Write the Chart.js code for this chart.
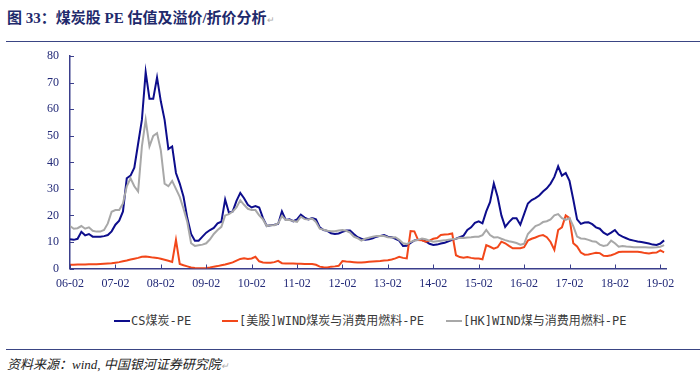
<!DOCTYPE html>
<html>
<head>
<meta charset="utf-8">
<script src="https://cdn.jsdelivr.net/npm/chart.js@4.4.1/dist/chart.umd.min.js"></script>
<style>
  body { margin: 0; width: 700px; height: 374px; background: #fff; position: relative; overflow: hidden; }
  #title { position: absolute; left: 7px; top: 6px; font: bold 15px "Liberation Serif", "Noto Sans CJK SC", serif; color: #1f2a6c; white-space: nowrap; }
  #title small, #source small { color: #aaa; font-weight: normal; font-size: 9px; }
  .rule { position: absolute; left: 6px; right: 0; border-top: 1.5px solid #3a4584; }
  #wrap { position: absolute; left: 0; top: 38px; width: 700px; height: 256px; }
  .item { position: absolute; top: 311px; height: 16px; line-height: 16px; font: 12px "DejaVu Sans Mono", "Noto Sans CJK SC", monospace; color: #3a3a3a; white-space: nowrap; }
  .item i { display: inline-block; width: 16px; height: 2px; vertical-align: middle; margin-right: 1px; position: relative; top: -1px; }
  #source { position: absolute; left: 7px; top: 354px; font: italic 13px "Liberation Serif", "Noto Sans CJK SC", serif; color: #222; white-space: nowrap; }
</style>
</head>
<body>
<div id="title">图 33：煤炭股 PE 估值及溢价/折价分析<small>↵</small></div>
<div class="rule" style="top:41px"></div>
<div id="wrap"><canvas id="chart"></canvas></div>
<div class="item" style="left:114px"><i style="background:#0d0d8c"></i>CS煤炭-PE</div>
<div class="item" style="left:222px"><i style="background:#f2471a"></i>[美股]WIND煤炭与消费用燃料-PE</div>
<div class="item" style="left:446px"><i style="background:#a8a8a8"></i>[HK]WIND煤与消费用燃料-PE</div>
<div class="rule" style="top:349px"></div>
<div id="source">资料来源：wind, 中国银河证券研究院<small>↵</small></div>

<script>
// monthly samples, 2006-02 .. 2019-03
const tickLabels = ['06-02', '07-02', '08-02', '09-02', '10-02', '11-02', '12-02',
  '13-02', '14-02', '15-02', '16-02', '17-02', '18-02', '19-02'];

const csPE = [
  11, 10.8, 11.2, 13.8, 12.5, 13, 12, 12, 12, 12.2,
  12.6, 14, 16.5, 18, 21.5, 34, 35, 38, 47, 56,
  74, 64, 64, 72, 63, 56, 45, 46, 36, 32,
  27, 19, 13, 10.5, 10.5, 12, 13.5, 14.5, 15.3, 17,
  17.6, 26, 21, 21.5, 25.5, 28.5, 26.5, 24, 23, 23.5,
  23, 19, 16, 16.3, 16.5, 16.8, 21.5, 18.3, 18.5, 17.8,
  18.5, 20.3, 19.2, 18.5, 19, 18.5, 15.5, 14.5, 14.2, 13.3,
  13, 13.2, 13.8, 14.3, 14.3, 13, 11.8, 11.2, 10.8, 11,
  11.4, 12, 12.3, 12.6, 12, 11.8, 11.2, 10.5, 8.5, 8.6,
  9.6, 10.6, 10.7, 10.7, 10.2, 9.3, 8.9, 9, 9.4, 9.7,
  10.2, 10.8, 11.2, 11.8, 12.4, 14.5, 15.5, 17.2, 17.8, 17,
  21.5, 25, 32, 27, 20, 15.7, 17.5, 18.9, 18.9, 16.5,
  20.5, 24.5, 25.8, 26.5, 27.5, 29, 30.2, 32, 34.5, 38.5,
  35, 36, 33, 26, 18.5, 16.8, 17.3, 17.4, 16.7, 15.5,
  15, 13.5, 12.7, 13.5, 14.5, 12.8, 12, 11.4, 10.8, 10.5,
  10.2, 10, 9.7, 9.4, 9, 8.9, 9.4, 10.6
];

const usPE = [
  1.4, 1.4, 1.5, 1.5, 1.5, 1.6, 1.6, 1.6, 1.7, 1.8,
  1.9, 2.0, 2.2, 2.4, 2.7, 3.0, 3.4, 3.7, 4.0, 4.4,
  4.5, 4.3, 4.1, 4.0, 3.7, 3.3, 2.9, 2.5, 10.8, 1.7,
  1.2, 0.8, 0.4, 0.2, 0.1, 0.1, 0.2, 0.4, 0.7, 0.9,
  1.2, 1.5, 1.9, 2.3, 3.0, 3.6, 3.9, 3.6, 3.8, 4.4,
  2.7, 2.3, 2.2, 2.2, 2.4, 2.9, 2.0, 1.9, 1.9, 1.9,
  1.8, 1.8, 1.7, 1.7, 1.7, 1.4, 0.7, 0.5, 0.4, 0.7,
  0.8, 1.0, 2.8, 2.6, 2.5, 2.4, 2.3, 2.3, 2.4, 2.5,
  2.6, 2.7, 2.8, 3.0, 3.1, 3.4, 3.8, 4.4, 4.0, 3.8,
  14.1, 14.0, 10.7, 10.6, 10.1, 10.5, 11.2, 11.5, 12.6, 12.8,
  12.9, 13.2, 5.0, 4.3, 4.1, 4.3, 4.0, 3.8, 3.8, 3.5,
  8.8, 8.2, 7.5, 8.0, 10.1, 9.5, 8.5, 7.6, 7.6, 7.6,
  8.0, 10.5, 11.2, 11.7, 12.3, 12.6, 11.8, 10.0, 7.0, 14.5,
  15.5, 20, 19, 9.5, 8.3, 6.0, 5.2, 5.3, 5.6, 5.9,
  5.8, 4.8, 4.7, 5.0, 5.5, 6.2, 6.3, 6.3, 6.3, 6.3,
  6.3, 6.1, 5.8, 5.7, 5.9, 6.0, 6.8, 6.1
];

const hkPE = [
  16, 15, 15.2, 16, 15, 15.5, 14.2, 13.9, 13.9, 14.5,
  17, 21.4, 22, 22, 24.5, 31, 34, 31, 29, 46,
  56, 46, 50, 51, 44.5, 32, 31, 33, 30, 27,
  22.5, 17.5, 9.5, 8.5, 8.8, 9, 9.5, 11, 13, 14.5,
  15.7, 20, 20.5, 21.5, 23, 25.7, 24, 22.5, 22, 22,
  20, 18.5, 16, 16.3, 16.3, 17, 19.8, 18.3, 18.3, 17.9,
  17.6, 19.5, 18.6, 18.5, 18.8, 17.5, 15, 14.6, 14.2, 14,
  14, 14.3, 14.5, 14.2, 13.5, 12, 11.4, 10.5, 11.2, 11.6,
  12, 12.2, 12.2, 12.2, 11.8, 11.7, 11.8, 10.8, 9.5, 9.2,
  10, 10.5, 10.8, 11.3, 11, 10.5, 10.1, 10.3, 10.5, 10.6,
  10.8, 11, 11.2, 11.6, 11.5, 11.7, 11.8, 12, 12, 12.6,
  14.5, 12.6, 11.7, 11.8, 11.2, 10.7, 10.3, 10, 9.6, 9,
  9.3, 13, 14.5, 16, 16.5, 17.5, 17.8, 18.5, 20, 20.5,
  19, 18.3, 19, 16, 12, 11.3, 11.2, 10.8, 10.3, 10.1,
  9, 8.5, 8.8, 10.5, 9.5, 8.2, 8.5, 8.3, 8.2, 8,
  8, 8, 8, 7.9, 7.9, 8, 8.2, 8.8
];

const axisColor = '#3b3f8c';
const labelColor = '#232a78';
const toPoints = arr => arr.map((v, i) => ({ x: i, y: v }));

// small tick marks pointing into the plot, like the original
const innerTicks = {
  id: 'innerTicks',
  afterDatasetsDraw(chart) {
    const { ctx, scales: { x, y } } = chart;
    ctx.save();
    ctx.strokeStyle = axisColor;
    ctx.lineWidth = 1;
    ctx.beginPath();
    y.ticks.forEach(t => {
      const py = Math.round(y.getPixelForValue(t.value)) + 0.5;
      ctx.moveTo(y.right, py);
      ctx.lineTo(y.right + 4, py);
    });
    x.ticks.forEach(t => {
      const px = Math.round(x.getPixelForValue(t.value)) + 0.5;
      ctx.moveTo(px, x.top);
      ctx.lineTo(px, x.top - 4);
    });
    ctx.stroke();
    ctx.restore();
  }
};

new Chart(document.getElementById('chart'), {
  type: 'line',
  data: {
    datasets: [
      { label: 'CS煤炭-PE', data: toPoints(csPE), borderColor: '#0d0d8c', order: 3 },
      { label: '[美股]WIND煤炭与消费用燃料-PE', data: toPoints(usPE), borderColor: '#f2471a', order: 2 },
      { label: '[HK]WIND煤与消费用燃料-PE', data: toPoints(hkPE), borderColor: '#a8a8a8', order: 1 },
    ],
  },
  options: {
    responsive: true,
    maintainAspectRatio: false,
    animation: false,
    layout: { padding: { left: 0, right: 34, top: 12, bottom: 0 } },
    elements: {
      line: { borderWidth: 2, tension: 0, fill: false },
      point: { radius: 0 },
    },
    plugins: {
      legend: { display: false },
      tooltip: { enabled: false },
    },
    scales: {
      x: {
        type: 'linear',
        min: 0,
        max: 157.5,
        afterBuildTicks: s => { s.ticks = tickLabels.map((_, i) => ({ value: i * 12 })); },
        afterFit: s => { s.height = 25.5; },
        grid: { display: false, drawTicks: false },
        border: { color: axisColor, width: 1.5 },
        ticks: {
          autoSkip: false,
          maxRotation: 0,
          padding: 8,
          color: labelColor,
          font: { family: 'Liberation Serif', size: 12 },
          callback: v => tickLabels[Math.round(v / 12)],
        },
      },
      y: {
        min: 0,
        max: 80,
        afterFit: s => { s.width = 70; },
        grid: { display: false, drawTicks: false },
        border: { color: axisColor, width: 1.5 },
        ticks: {
          stepSize: 10,
          padding: 11,
          color: labelColor,
          font: { family: 'Liberation Serif', size: 12 },
        },
      },
    },
  },
  plugins: [innerTicks],
});
</script>
</body>
</html>
